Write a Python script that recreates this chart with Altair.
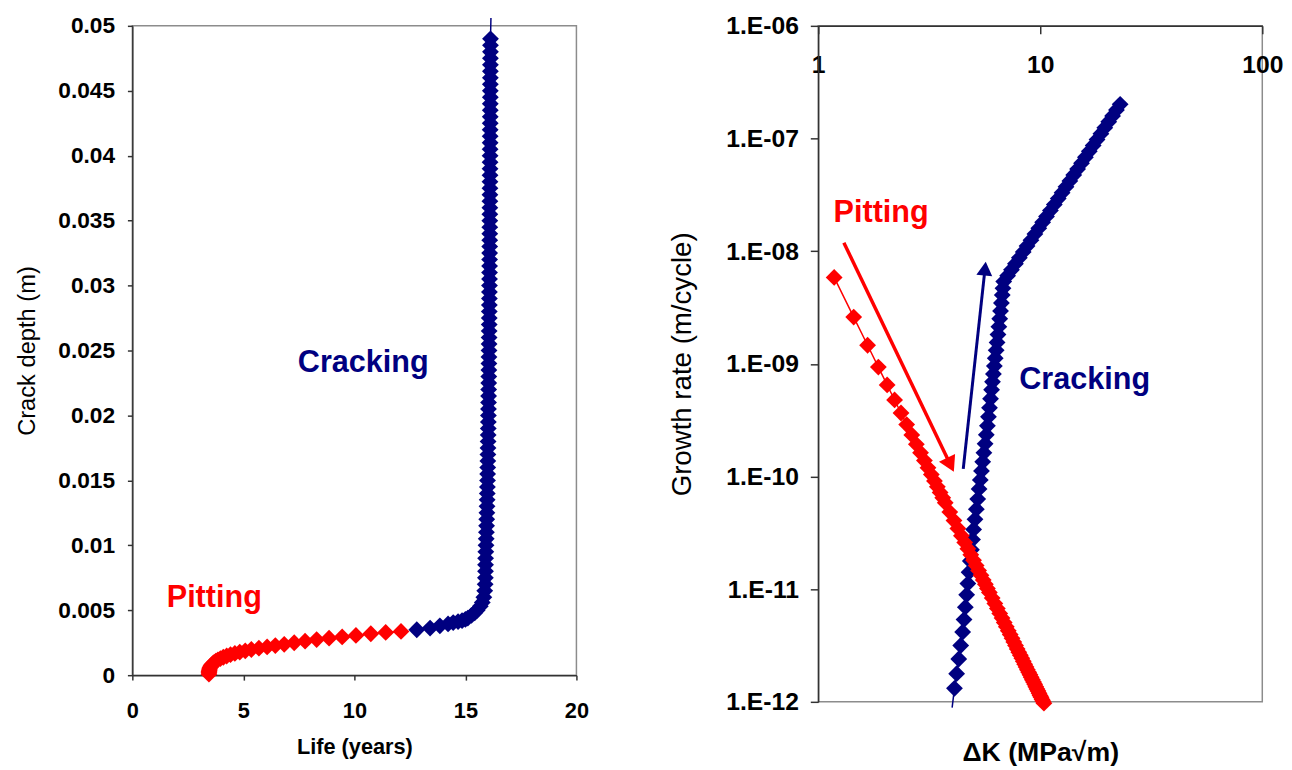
import altair as alt
import pandas as pd

RED = "#FF0000"
NAVY = "#000080"
FONT = "Liberation Sans"

# ---------------- Left panel: crack depth vs life ----------------
pit_life = [3.45, 3.451, 3.455, 3.464, 3.477, 3.498, 3.527, 3.567, 3.618, 3.682,
            3.76, 3.854, 3.966, 4.097, 4.248, 4.42, 4.617, 4.838, 5.085, 5.36,
            5.70, 6.07, 6.44, 6.84, 7.29, 7.78, 8.30, 8.86, 9.45, 10.07,
            10.74, 11.41, 12.10]
pit_depth = [0.00008, 0.00018, 0.00028, 0.00038, 0.00048, 0.00058, 0.00068, 0.00078, 0.00088, 0.00098,
             0.00108, 0.00118, 0.00128, 0.00138, 0.00148, 0.00158, 0.00168, 0.00178, 0.00188, 0.00198,
             0.00208, 0.00218, 0.00228, 0.00238, 0.00250, 0.00262, 0.00274, 0.00285, 0.00295, 0.00306,
             0.00319, 0.00329, 0.00337]

crack_life = [12.81, 13.41, 13.85, 14.22, 14.45, 14.67, 14.85, 15.00, 15.11, 15.27,
              15.42, 15.53, 15.67, 15.76, 15.83, 15.87, 15.89, 15.90, 15.905, 15.907,
              15.909, 15.919, 15.929, 15.938, 15.946, 15.954, 15.961, 15.968, 15.974, 15.980,
              15.986, 15.991, 15.996, 16.001, 16.006, 16.010, 16.014, 16.018, 16.022, 16.026,
              16.030, 16.033, 16.036, 16.039, 16.042, 16.045, 16.048, 16.051, 16.054, 16.057,
              16.059, 16.062, 16.064, 16.066, 16.068, 16.070, 16.072, 16.074, 16.076, 16.078,
              16.080, 16.082, 16.084, 16.086, 16.087, 16.089, 16.090, 16.092, 16.094, 16.096,
              16.097, 16.098, 16.099, 16.101, 16.102, 16.104, 16.105, 16.106, 16.107, 16.109,
              16.110, 16.111, 16.112, 16.113, 16.114, 16.115, 16.116, 16.118, 16.119, 16.120,
              16.121, 16.122, 16.122, 16.123, 16.124, 16.125, 16.126, 16.127, 16.128, 16.129,
              16.130]
crack_depth = [0.00350, 0.00363, 0.00380, 0.00395, 0.00405, 0.00413, 0.00420, 0.00430, 0.00440, 0.00460,
               0.00480, 0.00500, 0.00530, 0.00560, 0.00600, 0.00650, 0.00700, 0.00750, 0.00800, 0.00850,
               0.0090, 0.0095, 0.0100, 0.0105, 0.0110, 0.0115, 0.0120, 0.0125, 0.0130, 0.0135,
               0.0140, 0.0145, 0.0150, 0.0155, 0.0160, 0.0165, 0.0170, 0.0175, 0.0180, 0.0185,
               0.0190, 0.0195, 0.0200, 0.0205, 0.0210, 0.0215, 0.0220, 0.0225, 0.0230, 0.0235,
               0.0240, 0.0245, 0.0250, 0.0255, 0.0260, 0.0265, 0.0270, 0.0275, 0.0280, 0.0285,
               0.0290, 0.0295, 0.0300, 0.0305, 0.0310, 0.0315, 0.0320, 0.0325, 0.0330, 0.0335,
               0.0340, 0.0345, 0.0350, 0.0355, 0.0360, 0.0365, 0.0370, 0.0375, 0.0380, 0.0385,
               0.0390, 0.0395, 0.0400, 0.0405, 0.0410, 0.0415, 0.0420, 0.0425, 0.0430, 0.0435,
               0.0440, 0.0445, 0.0450, 0.0455, 0.0460, 0.0465, 0.0470, 0.0475, 0.0480, 0.0485,
               0.0490]
crack_tail_life = [16.15]
crack_tail_depth = [0.0506]

life_ticks = [0, 5, 10, 15, 20]
depth_ticks = [0, 0.005, 0.01, 0.015, 0.02, 0.025, 0.03, 0.035, 0.04, 0.045, 0.05]

left_text = ["Pitting", "Cracking"]
left_text_life = [3.69, 10.4]
left_text_depth = [0.00593, 0.024]

# ---------------- Right panel: growth rate vs dK ----------------
pit_dk = [1.180, 1.445, 1.669, 1.866, 2.044, 2.208, 2.360, 2.503, 2.639, 2.767,
          2.890, 3.008, 3.122, 3.232, 3.338, 3.440, 3.540, 3.637, 3.732,
          3.914, 4.088, 4.255, 4.415, 4.570, 4.720, 4.865, 5.006, 5.144, 5.277,
          5.408, 5.535, 5.659, 5.781, 5.900,
          6.074, 6.244, 6.409, 6.570, 6.727, 6.881, 7.031, 7.178, 7.322, 7.463,
          7.602, 7.738, 7.872, 8.003, 8.133, 8.260, 8.386, 8.509, 8.631, 8.751,
          8.870, 8.987, 9.102, 9.216, 9.329, 9.440, 9.550, 9.659, 9.766, 9.873,
          9.978, 10.082, 10.185, 10.287, 10.388]
pit_rate = [5.85e-9, 2.60e-9, 1.4625e-9, 9.36e-10, 6.50e-10, 4.78e-10, 3.66e-10, 2.89e-10, 2.34e-10, 1.93e-10,
            1.625e-10, 1.385e-10, 1.194e-10, 1.04e-10, 9.14e-11, 8.10e-11, 7.22e-11, 6.48e-11, 5.85e-11,
            4.83e-11, 4.06e-11, 3.46e-11, 2.98e-11, 2.60e-11, 2.29e-11, 2.02e-11, 1.806e-11, 1.62e-11, 1.4625e-11,
            1.327e-11, 1.209e-11, 1.106e-11, 1.016e-11, 9.36e-12,
            8.33e-12, 7.46e-12, 6.72e-12, 6.09e-12, 5.54e-12, 5.06e-12, 4.64e-12, 4.27e-12, 3.95e-12, 3.66e-12,
            3.40e-12, 3.16e-12, 2.95e-12, 2.76e-12, 2.59e-12, 2.44e-12, 2.29e-12, 2.16e-12, 2.04e-12, 1.93e-12,
            1.83e-12, 1.74e-12, 1.65e-12, 1.57e-12, 1.50e-12, 1.43e-12, 1.36e-12, 1.30e-12, 1.25e-12, 1.19e-12,
            1.14e-12, 1.10e-12, 1.05e-12, 1.01e-12, 9.74e-13]

crack_dk = [4.108, 4.202, 4.295, 4.383, 4.473, 4.537, 4.599, 4.662, 4.721, 4.780,
            4.840, 4.899, 4.955, 5.012, 5.083, 5.155, 5.229, 5.303, 5.370, 5.437,
            5.506, 5.575, 5.645, 5.716, 5.781, 5.844, 5.908, 5.972, 6.037, 6.095,
            6.153, 6.212, 6.271, 6.331, 6.391, 6.452, 6.510, 6.567, 6.625, 6.684,
            6.743, 6.794, 6.846,
            7.13, 7.42, 7.73, 8.05, 8.38, 8.72, 9.08, 9.46, 9.85, 10.25,
            10.67, 11.11, 11.57, 12.05, 12.54, 13.06, 13.59, 14.15, 14.73, 15.34,
            15.97, 16.63, 17.31, 18.02, 18.76, 19.53, 20.34, 21.17, 22.04, 22.9]
crack_rate = [1.318e-12, 1.778e-12, 2.399e-12, 3.162e-12, 4.169e-12, 5.370e-12, 6.918e-12, 8.913e-12, 1.122e-11, 1.413e-11,
              1.778e-11, 2.239e-11, 2.754e-11, 3.388e-11, 4.169e-11, 5.129e-11, 6.310e-11, 7.762e-11, 9.333e-11, 1.122e-10,
              1.349e-10, 1.622e-10, 1.950e-10, 2.344e-10, 2.818e-10, 3.388e-10, 4.074e-10, 4.898e-10, 5.888e-10, 6.918e-10,
              8.128e-10, 9.550e-10, 1.122e-9, 1.318e-9, 1.549e-9, 1.820e-9, 2.138e-9, 2.512e-9, 2.951e-9, 3.467e-9,
              4.074e-9, 4.677e-9, 5.370e-9,
              6.066e-9, 6.837e-9, 7.730e-9, 8.731e-9, 9.850e-9, 1.110e-8, 1.253e-8, 1.417e-8, 1.599e-8, 1.802e-8,
              2.033e-8, 2.295e-8, 2.592e-8, 2.929e-8, 3.300e-8, 3.728e-8, 4.201e-8, 4.742e-8, 5.349e-8, 6.041e-8,
              6.816e-8, 7.698e-8, 8.681e-8, 9.793e-8, 1.105e-7, 1.247e-7, 1.408e-7, 1.588e-7, 1.792e-7, 2.010e-7]
crack_tail_dk = [4.01]
crack_tail_rate = [8.9e-13]

dk_ticks = [1, 10, 100]
rate_ticks = [1e-12, 1e-11, 1e-10, 1e-9, 1e-8, 1e-7, 1e-6]

right_pit_label = ["Pitting"]
right_pit_label_dk = [1.92]
right_pit_label_rate = [2.17e-8]
right_crack_label = ["Cracking"]
right_crack_label_dk = [15.85]
right_crack_label_rate = [7.18e-10]

red_arrow_dk = [1.305, 3.94]
red_arrow_rate = [1.19e-8, 1.27e-10]
navy_arrow_dk = [4.50, 5.64]
navy_arrow_rate = [1.17e-10, 7.0e-9]

# ---------------- Left chart ----------------
AX_COL = "#333333"
PT_SIZE = 290
XL = alt.X("life:Q",
           scale=alt.Scale(domain=[0, 20], nice=False, zero=False),
           axis=alt.Axis(values=life_ticks, title="Life (years)", tickSize=5,
                         labelFlush=False, labelFontSize=22,
                         labelPadding=21, titlePadding=15, titleFontWeight="bold",
                         titleFontSize=22))
YL = alt.Y("depth:Q",
           scale=alt.Scale(domain=[0, 0.05], nice=False),
           axis=alt.Axis(values=depth_ticks, format="~g", title="Crack depth (m)",
                         labelFontSize=23,
                         tickSize=5, labelPadding=13, titlePadding=19,
                         titleFontWeight="normal", titleFontSize=24))

df_lp = pd.DataFrame({"life": pit_life, "depth": pit_depth})
df_lc = pd.DataFrame({"life": crack_life, "depth": crack_depth})
df_lc_line = pd.DataFrame({"life": crack_life + crack_tail_life,
                           "depth": crack_depth + crack_tail_depth})

l_blue_line = alt.Chart(df_lc_line).mark_line(color=NAVY, strokeWidth=1.5).encode(x=XL, y=YL, order="depth:Q")
l_blue_pts = alt.Chart(df_lc).mark_point(shape="diamond", filled=True, size=PT_SIZE, color=NAVY, opacity=1).encode(x=XL, y=YL)
l_red_line = alt.Chart(df_lp).mark_line(color=RED, strokeWidth=1.5).encode(x=XL, y=YL, order="depth:Q")
l_red_pts = alt.Chart(df_lp).mark_point(shape="diamond", filled=True, size=PT_SIZE, color=RED, opacity=1).encode(x=XL, y=YL)

df_lt = pd.DataFrame({"life": left_text_life, "depth": left_text_depth, "label": left_text})
l_txt_pit = alt.Chart(df_lt.iloc[[0]]).mark_text(font=FONT, fontSize=31, fontWeight="bold", color=RED,
                                                 align="center", baseline="middle").encode(x=XL, y=YL, text="label:N")
l_txt_crack = alt.Chart(df_lt.iloc[[1]]).mark_text(font=FONT, fontSize=31, fontWeight="bold", color=NAVY,
                                                   align="center", baseline="middle").encode(x=XL, y=YL, text="label:N")

left = alt.layer(l_blue_line, l_blue_pts, l_red_line, l_red_pts, l_txt_pit, l_txt_crack).properties(width=450, height=658)

# ---------------- Right chart ----------------
XR = alt.X("dk:Q",
           scale=alt.Scale(type="log", domain=[1, 100], nice=False),
           axis=alt.Axis(orient="bottom", offset=-685, values=dk_ticks, format="d",
                         labelFlush=False, labelFontSize=25,
                         tickSize=8, labelPadding=19, title="ΔK (MPa√m)",
                         titleY=736, titleBaseline="middle", titleFontWeight="bold",
                         titleFontSize=27))
YR = alt.Y("rate:Q",
           scale=alt.Scale(type="log", domain=[1e-12, 1e-6], nice=False),
           axis=alt.Axis(values=rate_ticks,
                         labelExpr="'1.E-' + format(round(-log(datum.value)/LN10), '02d')",
                         labelFontSize=25,
                         tickSize=8, labelPadding=12, title="Growth rate (m/cycle)",
                         titlePadding=30, titleFontWeight="normal", titleFontSize=28))

df_rp = pd.DataFrame({"dk": pit_dk, "rate": pit_rate})
df_rc = pd.DataFrame({"dk": crack_dk, "rate": crack_rate})
df_rc_line = pd.DataFrame({"dk": crack_tail_dk + crack_dk, "rate": crack_tail_rate + crack_rate})

r_blue_line = alt.Chart(df_rc_line).mark_line(color=NAVY, strokeWidth=1.5).encode(x=XR, y=YR, order="rate:Q")
r_blue_pts = alt.Chart(df_rc).mark_point(shape="diamond", filled=True, size=PT_SIZE, color=NAVY, opacity=1).encode(x=XR, y=YR)
r_red_line = alt.Chart(df_rp).mark_line(color=RED, strokeWidth=1.5).encode(x=XR, y=YR, order="dk:Q")
r_red_pts = alt.Chart(df_rp).mark_point(shape="diamond", filled=True, size=PT_SIZE, color=RED, opacity=1).encode(x=XR, y=YR)

df_red_arrow = pd.DataFrame({"dk": [red_arrow_dk[0]], "rate": [red_arrow_rate[0]],
                             "dk2": [red_arrow_dk[1]], "rate2": [red_arrow_rate[1]]})
df_navy_arrow = pd.DataFrame({"dk": [navy_arrow_dk[0]], "rate": [navy_arrow_rate[0]],
                              "dk2": [navy_arrow_dk[1]], "rate2": [navy_arrow_rate[1]]})
r_red_shaft = alt.Chart(df_red_arrow).mark_rule(color=RED, strokeWidth=3.5).encode(
    x=XR, y=YR, x2="dk2:Q", y2="rate2:Q")
r_navy_shaft = alt.Chart(df_navy_arrow).mark_rule(color=NAVY, strokeWidth=3).encode(
    x=XR, y=YR, x2="dk2:Q", y2="rate2:Q")
df_red_head = pd.DataFrame({"dk": [red_arrow_dk[1]], "rate": [red_arrow_rate[1]]})
df_navy_head = pd.DataFrame({"dk": [navy_arrow_dk[1]], "rate": [navy_arrow_rate[1]]})
r_red_head = alt.Chart(df_red_head).mark_point(shape="triangle-up", filled=True, size=330, angle=154,
                                               color=RED, opacity=1).encode(x=XR, y=YR)
r_navy_head = alt.Chart(df_navy_head).mark_point(shape="triangle-up", filled=True, size=260, angle=6,
                                                 color=NAVY, opacity=1).encode(x=XR, y=YR)

df_rt1 = pd.DataFrame({"dk": right_pit_label_dk, "rate": right_pit_label_rate, "label": right_pit_label})
df_rt2 = pd.DataFrame({"dk": right_crack_label_dk, "rate": right_crack_label_rate, "label": right_crack_label})
r_txt_pit = alt.Chart(df_rt1).mark_text(font=FONT, fontSize=31, fontWeight="bold", color=RED,
                                        align="center", baseline="middle").encode(x=XR, y=YR, text="label:N")
r_txt_crack = alt.Chart(df_rt2).mark_text(font=FONT, fontSize=31, fontWeight="bold", color=NAVY,
                                          align="center", baseline="middle").encode(x=XR, y=YR, text="label:N")

right = alt.layer(r_blue_line, r_blue_pts, r_red_line, r_red_pts,
                  r_red_shaft, r_red_head, r_navy_shaft, r_navy_head,
                  r_txt_pit, r_txt_crack).properties(width=450, height=685)

chart = alt.hconcat(left, right, spacing=79).properties(
    padding={"left": 6, "top": 0, "right": 0, "bottom": 0}
).configure_view(
    stroke="#8c8c8c", strokeWidth=1.5
).configure_axis(
    labelFont=FONT, titleFont=FONT, labelColor="black", titleColor="black",
    labelFontWeight="bold", labelFontSize=21, grid=False,
    domainColor=AX_COL, tickColor=AX_COL, domainWidth=1.5, tickWidth=1.5
)

chart.save("out.html", embed_options={"renderer": "svg", "actions": False})
